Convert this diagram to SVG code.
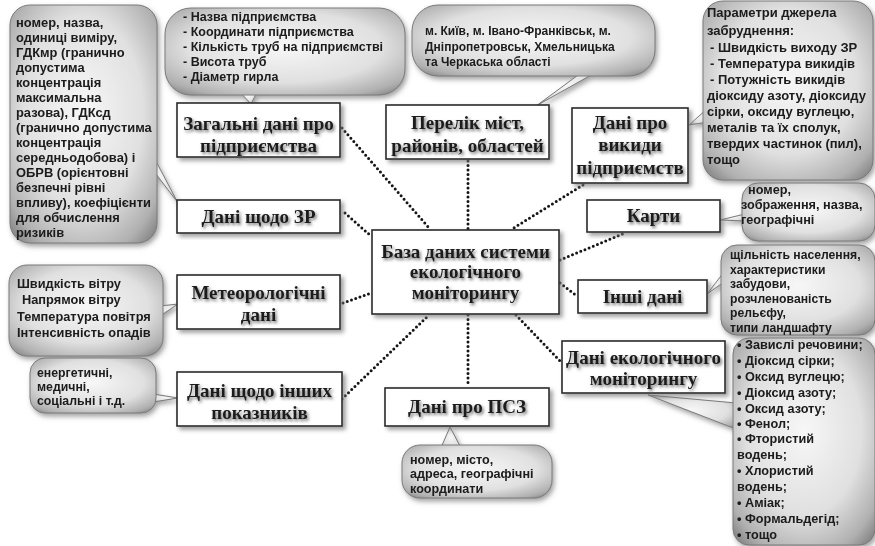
<svg xmlns="http://www.w3.org/2000/svg" width="875" height="546" viewBox="0 0 875 546">
<defs>
<radialGradient id="cg" cx="50%" cy="45%" r="70%">
<stop offset="0%" stop-color="#f7f7f7"/>
<stop offset="58%" stop-color="#e0e0e0"/>
<stop offset="88%" stop-color="#b0b0b0"/>
<stop offset="100%" stop-color="#888"/>
</radialGradient>
<filter id="bs" x="-10%" y="-10%" width="125%" height="130%">
<feDropShadow dx="3" dy="3" stdDeviation="2" flood-color="#777" flood-opacity="0.7"/>
</filter>
<filter id="cs" x="-10%" y="-10%" width="125%" height="125%">
<feDropShadow dx="2" dy="3" stdDeviation="2.5" flood-color="#666" flood-opacity="0.6"/>
</filter>
<filter id="ts" x="-10%" y="-30%" width="125%" height="170%">
<feDropShadow dx="1.5" dy="2" stdDeviation="1.4" flood-color="#555" flood-opacity="0.85"/>
</filter>
<style>
.box{fill:#fff;stroke:#2a2a2a;stroke-width:1.6;filter:url(#bs)}
.bt{font-family:"Liberation Serif","Times New Roman",serif;font-weight:bold;font-size:19px;fill:#1a1a1a;text-anchor:middle;filter:url(#ts)}
.co{fill:url(#cg);stroke:#7a7a7a;stroke-width:1}
.cog{filter:url(#cs)}
.ct{font-family:"Liberation Sans",Arial,sans-serif;font-weight:bold;font-size:12.7px;fill:#1a1a1a}
.con{fill:none;stroke:#151515;stroke-width:3;stroke-linecap:round;stroke-dasharray:0 4.5}
</style>
</defs>
<rect width="875" height="546" fill="#fff"/>

<g id="connectors">
<line class="con" x1="342" y1="128" x2="430" y2="229"/>
<line class="con" x1="345" y1="213" x2="371" y2="236"/>
<line class="con" x1="343" y1="303" x2="371" y2="293"/>
<line class="con" x1="342" y1="399" x2="429" y2="315"/>
<line class="con" x1="468" y1="161" x2="468" y2="229"/>
<line class="con" x1="468" y1="315" x2="468" y2="387"/>
<line class="con" x1="583" y1="185" x2="512" y2="229"/>
<line class="con" x1="560" y1="260" x2="625" y2="233"/>
<line class="con" x1="560" y1="283" x2="577" y2="296"/>
<line class="con" x1="516" y1="315" x2="561" y2="362"/>
</g>

<g id="callout-indicators" class="cog">
<polygon class="co" points="150,150 150,166 178,203"/>
<rect class="co" x="10" y="5" width="147" height="238" rx="20"/>
<g class="ct" style="font-size:12.9px">
<text x="16" y="27">номер, назва,</text>
<text x="16" y="42">одиниці виміру,</text>
<text x="16" y="57">ГДКмр (гранично</text>
<text x="16" y="72">допустима</text>
<text x="16" y="87">концентрація</text>
<text x="16" y="102">максимальна</text>
<text x="16" y="117">разова), ГДКсд</text>
<text x="16" y="132">(гранично допустима</text>
<text x="16" y="147">концентрація</text>
<text x="16" y="162">середньодобова) і</text>
<text x="16" y="177">ОБРВ (орієнтовні</text>
<text x="16" y="192">безпечні рівні</text>
<text x="16" y="207">впливу), коефіцієнти</text>
<text x="16" y="222">для обчислення</text>
<text x="16" y="237">ризиків</text>
</g>
</g>

<g id="callout-general" class="cog">
<polygon class="co" points="238,90 258,90 251,104"/>
<rect class="co" x="165" y="8" width="240" height="87" rx="26"/>
<g class="ct" style="font-size:12.5px">
<text x="183" y="21">- Назва підприємства</text>
<text x="183" y="36">- Координати підприємства</text>
<text x="183" y="51">- Кількість труб на підприємстві</text>
<text x="183" y="66">- Висота труб</text>
<text x="183" y="81">- Діаметр гирла</text>
</g>
</g>

<g id="callout-cities" class="cog">
<polygon class="co" points="585,70 600,70 536,106"/>
<rect class="co" x="412" y="5" width="243" height="71" rx="26"/>
<g class="ct" style="font-size:12px">
<text x="425" y="35">м. Київ, м. Івано-Франківськ, м.</text>
<text x="425" y="51">Дніпропетровськ, Хмельницька</text>
<text x="425" y="66">та Черкаська області</text>
</g>
</g>

<g id="callout-params" class="cog">
<polygon class="co" points="708,108 708,122 689,125"/>
<rect class="co" x="703" y="1" width="170" height="179" rx="20"/>
<g class="ct" style="font-size:13px">
<text x="707" y="17">Параметри джерела</text>
<text x="707" y="35">забруднення:</text>
<text x="710" y="52">- Швидкість виходу ЗР</text>
<text x="710" y="68">- Температура викидів</text>
<text x="710" y="84">- Потужність викидів</text>
<text x="707" y="100">діоксиду азоту, діоксиду</text>
<text x="707" y="116">сірки, оксиду вуглецю,</text>
<text x="707" y="132">металів та їх сполук,</text>
<text x="707" y="148">твердих частинок (пил),</text>
<text x="707" y="164">тощо</text>
</g>
</g>

<g id="callout-maps" class="cog">
<polygon class="co" points="745,214 745,221 720,220"/>
<rect class="co" x="742" y="183" width="133" height="58" rx="16"/>
<g class="ct">
<text x="748" y="194">номер,</text>
<text x="741" y="209">зображення, назва,</text>
<text x="741" y="224">географічні</text>
</g>
</g>

<g id="callout-other" class="cog">
<polygon class="co" points="724,272 724,282 707,294"/>
<rect class="co" x="721" y="245" width="154" height="90" rx="16"/>
<g class="ct" style="font-size:12.2px">
<text x="730" y="259">щільність населення,</text>
<text x="730" y="274">характеристики</text>
<text x="730" y="288">забудови,</text>
<text x="730" y="303">розчленованість</text>
<text x="730" y="317">рельєфу,</text>
<text x="730" y="332">типи ландшафту</text>
</g>
</g>

<g id="callout-pollutants" class="cog">
<polygon class="co" points="736,403 736,429 648,395"/>
<rect class="co" x="733" y="338" width="142" height="207" rx="16"/>
<g class="ct">
<text x="737" y="349">• Завислі речовини;</text>
<text x="737" y="365">• Діоксид сірки;</text>
<text x="737" y="381">• Оксид вуглецю;</text>
<text x="737" y="397">• Діоксид азоту;</text>
<text x="737" y="413">• Оксид азоту;</text>
<text x="737" y="428">• Фенол;</text>
<text x="737" y="443">• Фтористий</text>
<text x="737" y="459">водень;</text>
<text x="737" y="475">• Хлористий</text>
<text x="737" y="491">водень;</text>
<text x="737" y="507">• Аміак;</text>
<text x="737" y="523">• Формальдегід;</text>
<text x="737" y="539">• тощо</text>
</g>
</g>

<g id="callout-meteo" class="cog">
<polygon class="co" points="160,306 160,316 178,304"/>
<rect class="co" x="9" y="265" width="154" height="91" rx="18"/>
<g class="ct" style="font-size:12.8px">
<text x="17" y="288">Швидкість вітру</text>
<text x="22" y="304">Напрямок вітру</text>
<text x="17" y="321">Температура повітря</text>
<text x="17" y="337">Інтенсивність опадів</text>
</g>
</g>

<g id="callout-indicators-other" class="cog">
<polygon class="co" points="153,394 153,402 178,398"/>
<rect class="co" x="30" y="358" width="126" height="55" rx="15"/>
<g class="ct" style="font-size:12.3px">
<text x="37" y="377">енергетичні,</text>
<text x="37" y="391">медичні,</text>
<text x="37" y="405">соціальні і т.д.</text>
</g>
</g>

<g id="callout-psz" class="cog">
<polygon class="co" points="440,450 462,450 450,427"/>
<rect class="co" x="402" y="445" width="150" height="53" rx="18"/>
<g class="ct" style="font-size:12.6px">
<text x="410" y="464">номер, місто,</text>
<text x="410" y="478">адреса, географічні</text>
<text x="410" y="493">координати</text>
</g>
</g>

<g id="node-general">
<rect class="box" x="177" y="103" width="163" height="54"/>
<text class="bt" x="258.5" y="130">Загальні дані про</text>
<text class="bt" x="258.5" y="152">підприємства</text>
</g>
<g id="node-zr">
<rect class="box" x="177" y="200" width="163" height="33"/>
<text class="bt" x="258.5" y="223">Дані щодо ЗР</text>
</g>
<g id="node-meteo">
<rect class="box" x="177" y="275" width="163" height="54"/>
<text class="bt" x="258.5" y="299">Метеорологічні</text>
<text class="bt" x="258.5" y="321">дані</text>
</g>
<g id="node-indicators">
<rect class="box" x="177" y="372" width="165" height="54"/>
<text class="bt" x="259.5" y="397">Дані щодо інших</text>
<text class="bt" x="259.5" y="419">показників</text>
</g>
<g id="node-cities">
<rect class="box" x="386" y="105" width="163" height="54"/>
<text class="bt" x="467.5" y="129">Перелік міст,</text>
<text class="bt" x="467.5" y="152">районів, областей</text>
</g>
<g id="node-emissions">
<rect class="box" x="572" y="108" width="116" height="75"/>
<text class="bt" x="630" y="129">Дані про</text>
<text class="bt" x="630" y="151">викиди</text>
<text class="bt" x="630" y="174">підприємств</text>
</g>
<g id="node-center">
<rect class="box" x="372" y="230" width="187" height="84"/>
<text class="bt" x="465.5" y="258">База даних системи</text>
<text class="bt" x="465.5" y="278">екологічного</text>
<text class="bt" x="465.5" y="299">моніторингу</text>
</g>
<g id="node-maps">
<rect class="box" x="587" y="200" width="133" height="32"/>
<text class="bt" x="653.5" y="222">Карти</text>
</g>
<g id="node-other">
<rect class="box" x="578" y="280" width="129" height="33"/>
<text class="bt" x="642.5" y="303">Інші дані</text>
</g>
<g id="node-eco">
<rect class="box" x="562" y="341" width="163" height="52"/>
<text class="bt" x="643.5" y="364">Дані екологічного</text>
<text class="bt" x="643.5" y="385">моніторингу</text>
</g>
<g id="node-psz">
<rect class="box" x="385" y="388" width="164" height="38"/>
<text class="bt" x="467" y="413">Дані про ПСЗ</text>
</g>
</svg>
